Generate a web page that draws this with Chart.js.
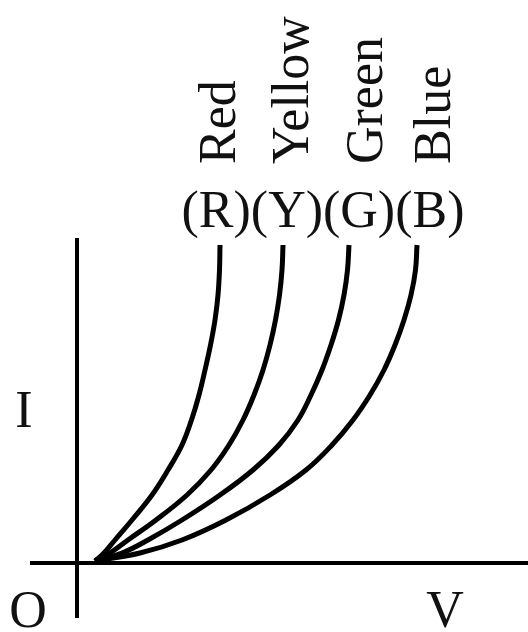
<!DOCTYPE html>
<html>
<head>
<meta charset="utf-8">
<script src="https://cdn.jsdelivr.net/npm/chart.js@4/dist/chart.umd.min.js"></script>
<style>
  html, body { margin: 0; padding: 0; background: #fff; }
  #wrap { width: 528px; height: 632px; }
</style>
</head>
<body>
<div id="wrap"><canvas id="chart" width="528" height="632"></canvas></div>
<script>
// I-V curves of LEDs (arbitrary units)
const currentI = [0.02, 0.10, 0.23, 0.43, 0.68, 0.93, 1.18, 1.43, 1.68, 1.93, 2.18, 2.43, 2.68, 2.93, 3.18];

const redV    = [0.18, 0.27, 0.38, 0.55, 0.75, 0.91, 1.05, 1.145, 1.22, 1.28, 1.335, 1.38, 1.41, 1.425, 1.43];
const yellowV = [0.18, 0.33, 0.51, 0.79, 1.10, 1.34, 1.52, 1.66, 1.77, 1.86, 1.93, 1.985, 2.025, 2.05, 2.06];
const greenV  = [0.18, 0.45, 0.71, 1.05, 1.43, 1.76, 2.02, 2.21, 2.34, 2.45, 2.54, 2.615, 2.67, 2.705, 2.72];
const blueV   = [0.18, 0.63, 1.05, 1.49, 1.93, 2.29, 2.55, 2.76, 2.93, 3.07, 3.18, 3.27, 3.34, 3.385, 3.40];

const colorNames = ['Red', 'Yellow', 'Green', 'Blue'];
const colorCodes = ['(R)', '(Y)', '(G)', '(B)'];
const axisNames = { x: 'V', y: 'I', origin: 'O' };

const toPoints = (xs, ys) => xs.map((x, i) => ({ x: x, y: ys[i] }));

const curve = (name, xs) => ({
  label: name,
  data: toPoints(xs, currentI),
  borderColor: '#000',
  borderWidth: 5,
  pointRadius: 0,
  tension: 0.4,
  fill: false,
});

const FONT = '52px "Liberation Serif", "Times New Roman", serif';

// text annotations placed in data units, drawn through the scales
const textLabels = {
  id: 'textLabels',
  afterDraw(chart) {
    const { ctx, scales: { x, y } } = chart;
    ctx.save();
    ctx.fillStyle = '#111';
    ctx.font = FONT;
    ctx.textBaseline = 'alphabetic';
    ctx.textAlign = 'center';

    ctx.fillText(axisNames.y, x.getPixelForValue(-0.53), y.getPixelForValue(1.36));
    ctx.fillText(axisNames.origin, x.getPixelForValue(-0.49), y.getPixelForValue(-0.64));
    ctx.fillText(axisNames.x, x.getPixelForValue(3.68), y.getPixelForValue(-0.64));

    ctx.fillText(colorCodes.join(''), x.getPixelForValue(2.46), y.getPixelForValue(3.36));

    const wordX = [1.58, 2.31, 3.05, 3.73];
    ctx.textAlign = 'left';
    colorNames.forEach((name, i) => {
      ctx.save();
      ctx.translate(x.getPixelForValue(wordX[i]), y.getPixelForValue(3.99));
      ctx.rotate(-Math.PI / 2);
      ctx.fillText(name, 0, 0);
      ctx.restore();
    });
    ctx.restore();
  }
};

const zeroOnly = (scale) => { scale.ticks = [{ value: 0 }]; };

new Chart(document.getElementById('chart').getContext('2d'), {
  type: 'scatter',
  data: {
    datasets: [
      curve(colorNames[0], redV),
      curve(colorNames[1], yellowV),
      curve(colorNames[2], greenV),
      curve(colorNames[3], blueV),
    ]
  },
  options: {
    responsive: false,
    animation: false,
    showLine: true,
    layout: { padding: { left: 30, right: 0, top: 238, bottom: 14 } },
    plugins: { legend: { display: false }, tooltip: { enabled: false } },
    scales: {
      x: {
        type: 'linear',
        min: -0.47,
        max: 4.51,
        afterBuildTicks: zeroOnly,
        ticks: { display: false },
        border: { display: false },
        grid: { color: '#000', lineWidth: 4, drawTicks: false }
      },
      y: {
        type: 'linear',
        min: -0.55,
        max: 3.25,
        afterBuildTicks: zeroOnly,
        ticks: { display: false },
        border: { display: false },
        grid: { color: '#000', lineWidth: 4, drawTicks: false }
      }
    }
  },
  plugins: [textLabels]
});
</script>
</body>
</html>
